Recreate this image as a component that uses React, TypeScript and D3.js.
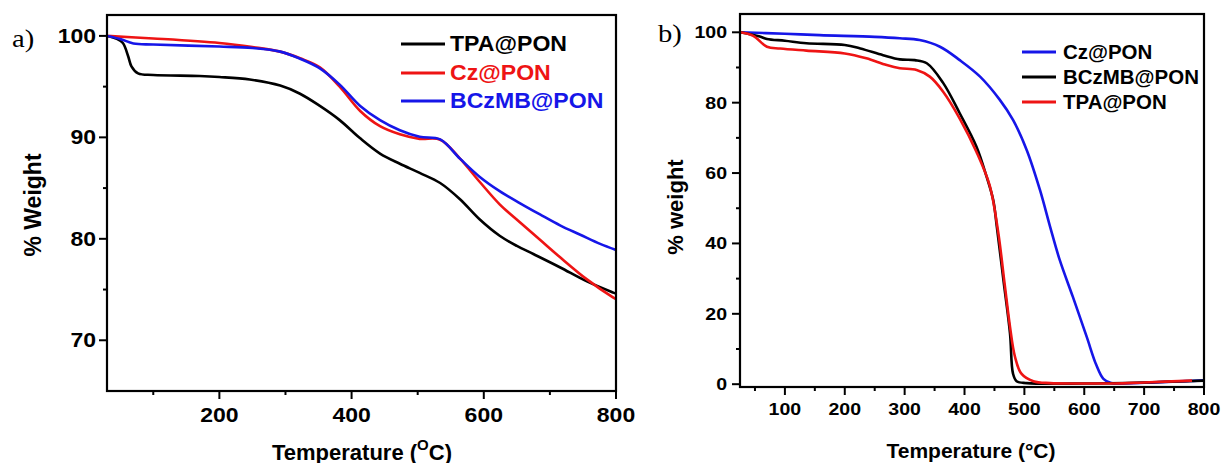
import React from "react";
import * as d3 from "d3";

// ---------- Panel a data ----------
const aTpaT = [30, 45, 54, 62, 67, 77, 100, 170, 200, 246, 292, 322, 352, 382, 413, 443, 473, 503, 534, 564, 594, 624, 650, 675, 715, 756, 796, 800];
const aTpaW = [100, 99.7, 99.3, 98.0, 97.0, 96.3, 96.15, 96.05, 95.95, 95.7, 95.1, 94.3, 93.1, 91.7, 89.9, 88.4, 87.4, 86.5, 85.5, 83.9, 81.9, 80.3, 79.3, 78.5, 77.2, 75.8, 74.7, 74.6];
const aCzT = [30, 100, 200, 250, 292, 322, 352, 382, 413, 443, 473, 503, 534, 564, 594, 624, 655, 685, 715, 756, 796, 800];
const aCzW = [100, 99.75, 99.3, 98.9, 98.45, 97.8, 96.9, 95.0, 92.6, 91.1, 90.3, 89.85, 89.77, 87.9, 85.6, 83.4, 81.6, 79.9, 78.2, 76.0, 74.2, 74.05];
const aBczT = [30, 50, 70, 100, 200, 250, 292, 322, 352, 382, 413, 443, 473, 503, 534, 564, 594, 624, 655, 685, 716, 746, 776, 800];
const aBczW = [100, 99.7, 99.25, 99.15, 98.95, 98.8, 98.45, 97.75, 96.8, 95.2, 93.1, 91.7, 90.7, 90.05, 89.8, 87.9, 86.1, 84.7, 83.5, 82.4, 81.3, 80.4, 79.5, 78.9];
const aXMajor = [200, 400, 600, 800];
const aXMinor = [100, 300, 500, 700];
const aYMajor = [70, 80, 90, 100];
const aYMinor = [75, 85, 95];
const aLegend = ["TPA@PON", "Cz@PON", "BCzMB@PON"];

// ---------- Panel b data ----------
const bCzT = [25, 100, 158, 250, 292, 325, 359, 392, 426, 459, 481, 504, 526, 543, 559, 581, 604, 620, 632, 645, 700, 776, 800];
const bCzW = [100, 99.6, 99.2, 98.7, 98.3, 97.8, 95.9, 92.1, 87.4, 80.8, 75.1, 66.5, 55.2, 44.7, 35.3, 24.8, 13.5, 5.5, 1.5, 0.3, 0.4, 0.9, 1.1];
const bBczT = [25, 58, 70, 100, 136, 200, 226, 264, 292, 317, 337, 364, 392, 420, 437, 448, 454, 465, 476, 481, 487, 504, 600, 700, 800];
const bBczW = [100, 98.8, 98.1, 97.6, 96.9, 96.4, 95.4, 93.5, 92.3, 92.1, 91.2, 85.7, 77.0, 67.5, 58.9, 52.3, 44.7, 29.6, 14.4, 3.0, 0.85, 0.3, 0.2, 0.5, 1.0];
const bTpaT = [25, 47, 70, 92, 136, 200, 236, 270, 292, 320, 342, 364, 392, 420, 442, 456, 467, 476, 484, 495, 515, 543, 600, 650, 700, 780];
const bTpaW = [100, 99.0, 95.9, 95.4, 94.8, 94.0, 92.6, 90.7, 89.8, 89.3, 87.4, 83.2, 75.5, 66.0, 56.5, 43.5, 28.5, 16.3, 8.0, 3.0, 0.85, 0.3, 0.2, 0.2, 0.5, 1.0];
const bXMajor = [100, 200, 300, 400, 500, 600, 700, 800];
const bXMinor = [50, 150, 250, 350, 450, 550, 650, 750];
const bYMajor = [0, 20, 40, 60, 80, 100];
const bYMinor = [10, 30, 50, 70, 90];
const bLegend = ["Cz@PON", "BCzMB@PON", "TPA@PON"];

const BLACK = "#000000";
const RED = "#ee1414";
const BLUE = "#1616e8";
const SANS = "'Liberation Sans', Arial, sans-serif";
const SERIF = "'Liberation Serif', 'Times New Roman', serif";

type Series = { t: number[]; w: number[]; color: string };

function STxt(props: { x: number; y: number; size: number; sx?: number; anchor?: string; fill?: string; children: any; font?: string; weight?: string; rotate?: number }) {
  const { x, y, size, sx = 1, anchor = "middle", fill = "#000", children, font = SANS, weight = "bold", rotate = 0 } = props;
  return (
    <text
      transform={`translate(${x},${y}) rotate(${rotate}) scale(${sx},1)`}
      textAnchor={anchor}
      dominantBaseline="central"
      fontFamily={font}
      fontWeight={weight}
      fontSize={size}
      fill={fill}
    >
      {children}
    </text>
  );
}

function Panel(props: {
  x0: number; x1: number; y0: number; y1: number;
  xDom: [number, number]; yDom: [number, number];
  series: Series[];
  xMajor: number[]; xMinor: number[]; yMajor: number[]; yMinor: number[];
  tickSize: number; tickLabelY: number; yLabelRight: number;
  legend: string[]; legendColors: string[]; legendTextColors: string[];
  legX0: number; legX1: number; legTextX: number; legYs: number[]; legSize: number;
}) {
  const p = props;
  const x = d3.scaleLinear().domain(p.xDom).range([p.x0, p.x1]);
  const y = d3.scaleLinear().domain(p.yDom).range([p.y1, p.y0]);
  const line = d3.line<[number, number]>().x(d => x(d[0])).y(d => y(d[1])).curve(d3.curveCatmullRom.alpha(0.5));
  return (
    <g>
      <defs>
        <clipPath id={`clip${p.x0}`}>
          <rect x={p.x0} y={p.y0} width={p.x1 - p.x0} height={p.y1 - p.y0} />
        </clipPath>
      </defs>
      <g clipPath={`url(#clip${p.x0})`}>
        {p.series.map((s, i) => (
          <path key={i} d={line(s.t.map((t, j) => [t, s.w[j]] as [number, number])) || ""} fill="none" stroke={s.color} strokeWidth={2.6} strokeLinejoin="round" />
        ))}
      </g>
      <rect x={p.x0} y={p.y0} width={p.x1 - p.x0} height={p.y1 - p.y0} fill="none" stroke="#000" strokeWidth={2.2} />
      {p.xMajor.map(v => (
        <g key={`xm${v}`}>
          <line x1={x(v)} x2={x(v)} y1={p.y1} y2={p.y1 + 8} stroke="#000" strokeWidth={2} />
          <STxt x={x(v)} y={p.tickLabelY} size={p.tickSize} sx={1.15}>{v}</STxt>
        </g>
      ))}
      {p.xMinor.map(v => (
        <line key={`xn${v}`} x1={x(v)} x2={x(v)} y1={p.y1} y2={p.y1 + 4} stroke="#000" strokeWidth={2} />
      ))}
      {p.yMajor.map(v => (
        <g key={`ym${v}`}>
          <line x1={p.x0 - 8} x2={p.x0} y1={y(v)} y2={y(v)} stroke="#000" strokeWidth={2} />
          <STxt x={p.yLabelRight} y={y(v)} size={p.tickSize} sx={1.15} anchor="end">{v}</STxt>
        </g>
      ))}
      {p.yMinor.map(v => (
        <line key={`yn${v}`} x1={p.x0 - 4} x2={p.x0} y1={y(v)} y2={y(v)} stroke="#000" strokeWidth={2} />
      ))}
      {p.legend.map((name, i) => (
        <g key={name}>
          <line x1={p.legX0} x2={p.legX1} y1={p.legYs[i]} y2={p.legYs[i]} stroke={p.legendColors[i]} strokeWidth={2.8} />
          <STxt x={p.legTextX} y={p.legYs[i]} size={p.legSize} sx={1.05} anchor="start" fill={p.legendTextColors[i]}>{name}</STxt>
        </g>
      ))}
    </g>
  );
}

export default function App() {
  const aSeries: Series[] = [
    { t: aTpaT, w: aTpaW, color: BLACK },
    { t: aCzT, w: aCzW, color: RED },
    { t: aBczT, w: aBczW, color: BLUE },
  ];
  const bSeries: Series[] = [
    { t: bCzT, w: bCzW, color: BLUE },
    { t: bBczT, w: bBczW, color: BLACK },
    { t: bTpaT, w: bTpaW, color: RED },
  ];
  return (
    <svg width={1223} height={463} style={{ position: "absolute", left: 0, top: 0, background: "#fff" }}>
      <rect x={0} y={0} width={1223} height={463} fill="#fff" />
      <Panel
        x0={107} x1={616} y0={15} y1={391}
        xDom={[30, 800]} yDom={[65, 102.06]}
        series={aSeries}
        xMajor={aXMajor} xMinor={aXMinor} yMajor={aYMajor} yMinor={aYMinor}
        tickSize={20} tickLabelY={415} yLabelRight={96}
        legend={aLegend} legendColors={[BLACK, RED, BLUE]} legendTextColors={[BLACK, RED, BLUE]}
        legX0={401} legX1={445} legTextX={450} legYs={[44, 73, 101]} legSize={22}
      />
      <STxt x={12} y={38} size={26} sx={1.1} font={SERIF} weight="normal" anchor="start">a)</STxt>
      <STxt x={33} y={205} size={23} rotate={-90}>% Weight</STxt>
      <text x={362} y={452} textAnchor="middle" dominantBaseline="central" fontFamily={SANS} fontWeight="bold" fontSize={22} fill="#000">
        Temperature (<tspan fontSize={15} dy={-8}>O</tspan><tspan dy={8}>C)</tspan>
      </text>

      <Panel
        x0={740} x1={1204} y0={14} y1={387}
        xDom={[25, 800]} yDom={[-0.8, 105.2]}
        series={bSeries}
        xMajor={bXMajor} xMinor={bXMinor} yMajor={bYMajor} yMinor={bYMinor}
        tickSize={17} tickLabelY={409} yLabelRight={727}
        legend={bLegend} legendColors={[BLUE, BLACK, RED]} legendTextColors={[BLACK, BLACK, BLACK]}
        legX0={1022} legX1={1056} legTextX={1063} legYs={[52, 77, 102]} legSize={19.5}
      />
      <STxt x={658} y={33} size={26} sx={1.1} font={SERIF} weight="normal" anchor="start">b)</STxt>
      <STxt x={675} y={207} size={22} rotate={-90}>% weight</STxt>
      <STxt x={971} y={450} size={21}>Temperature (°C)</STxt>
    </svg>
  );
}
